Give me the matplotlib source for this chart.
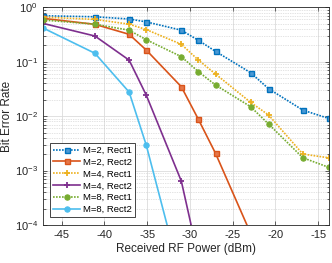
import matplotlib
matplotlib.use('Agg')
import matplotlib.pyplot as plt
from matplotlib.ticker import LogLocator, NullFormatter

plt.rcParams['font.family'] = ['Liberation Sans', 'DejaVu Sans']
plt.rcParams['mathtext.fontset'] = 'custom'
plt.rcParams['mathtext.rm'] = 'Liberation Sans'

# received RF power (dBm)
power = [-47.2, -41.1, -37.1, -35.1, -31.0, -29.0, -27.0, -22.9, -20.8, -16.8, -13.8]

ber_m2_rect1 = [0.70, 0.67, 0.61, 0.54, 0.38, 0.247, 0.155, 0.0628, 0.0319, 0.0129, 0.0091]
ber_m2_rect2 = [0.628, 0.487, 0.319, 0.164, 0.0347, 0.0087, 0.00207, 7e-5]
ber_m4_rect1 = [0.66, 0.60, 0.49, 0.39, 0.209, 0.107, 0.0594, 0.0179, 0.0105, 0.00201, 0.00172]
ber_m4_rect2 = [0.508, 0.297, 0.107, 0.0244, 0.00064, 2.5e-5]
ber_m8_rect1 = [0.585, 0.49, 0.38, 0.254, 0.124, 0.0655, 0.0373, 0.0149, 0.00716, 0.00172, 0.00115]
ber_m8_rect2 = [0.42, 0.143, 0.0277, 0.00294, 1e-5]

labels = ['M=2, Rect1', 'M=2, Rect2', 'M=4, Rect1', 'M=4, Rect2', 'M=8, Rect1', 'M=8, Rect2']
xticks = [-45, -40, -35, -30, -25, -20, -15]

dot = (0, (1, 0.8))
styles = [
    dict(color='#0072BD', ls=dot, marker='s', mfc='#4a98d4', ms=3.6, mew=1.0),
    dict(color='#D95319', ls='-', marker='s', mfc='#e5774a', ms=3.6, mew=1.0),
    dict(color='#EDB120', ls=dot, marker='+', ms=5, mew=1.3),
    dict(color='#7E2F8E', ls='-', marker='+', ms=5, mew=1.3),
    dict(color='#77AC30', ls=dot, marker='o', mfc='#77AC30', ms=3.8, mew=0.8),
    dict(color='#4DBEEE', ls='-', marker='o', mfc='#4DBEEE', ms=3.8, mew=0.8),
]
series = [ber_m2_rect1, ber_m2_rect2, ber_m4_rect1, ber_m4_rect2, ber_m8_rect1, ber_m8_rect2]

fig = plt.figure(figsize=(3.32, 2.63), dpi=100)
ax = fig.add_axes([0.1286, 0.1445, 0.8609, 0.8277])

for vals, lab, st in zip(series, labels, styles):
    ax.semilogy(power[:len(vals)], vals, label=lab, lw=1.2, mec=st['color'], **st)

ax.set_xlim(power[0], power[-1])
ax.set_ylim(1e-4, 1)
ax.set_xticks(xticks)
ax.set_xticklabels([str(t) for t in xticks])
ax.yaxis.set_major_locator(LogLocator(base=10, numticks=10))
ax.yaxis.set_minor_locator(LogLocator(base=10, subs=range(2, 10), numticks=20))
ax.yaxis.set_minor_formatter(NullFormatter())

ax.grid(True, which='major', color='#dcdcdc', lw=0.6, ls='-')
ax.grid(True, which='minor', axis='y', color='#c8c8c8', lw=0.5, ls=(0, (1, 1.5)))
ax.set_axisbelow(True)

for sp in ax.spines.values():
    sp.set_color('#262626')
    sp.set_linewidth(0.6)
ax.tick_params(which='both', direction='in', top=True, right=True, colors='#262626',
               labelsize=8, width=0.5)
ax.tick_params(which='major', length=3)
ax.tick_params(which='minor', length=1.8)

ax.set_xlabel('Received RF Power (dBm)', fontsize=8.5, color='#262626', labelpad=2)
ax.set_ylabel('Bit Error Rate', fontsize=8.5, color='#262626', labelpad=1)

leg = ax.legend(loc='lower left', bbox_to_anchor=(0.0255, 0.035), borderaxespad=0,
                fontsize=6.8, handlelength=2.8, labelspacing=0.3, handletextpad=0.3,
                borderpad=0.35, fancybox=False, framealpha=1, edgecolor='#262626')
leg.get_frame().set_linewidth(0.6)

fig.savefig('out.png', dpi=100)
